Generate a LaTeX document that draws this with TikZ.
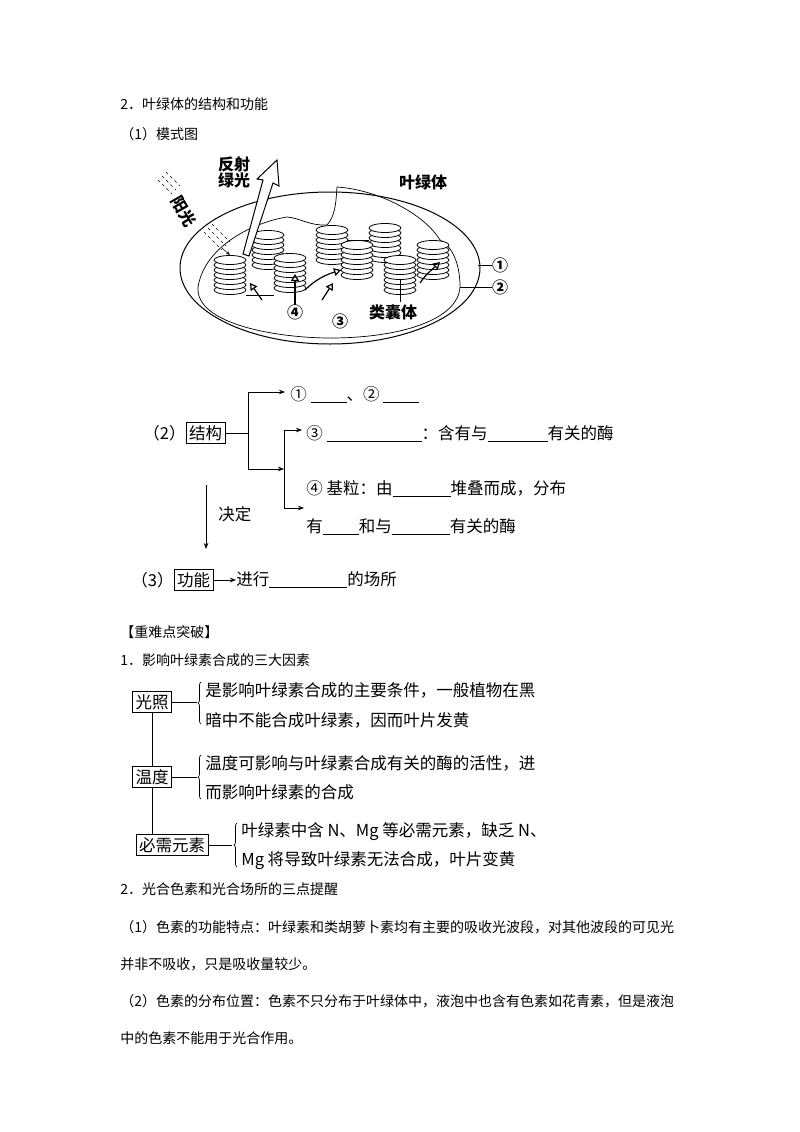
\documentclass[tikz,border=0pt]{standalone}
\usepackage{fontspec}
\setmainfont{Noto Sans CJK SC}
\usetikzlibrary{arrows.meta, positioning, decorations.pathreplacing}
\tikzset{txt/.style = {anchor = west, inner sep = 0pt, font = \fontsize{14}{14}\selectfont},
         big/.style = {anchor = west, inner sep = 0pt, font = \fontsize{16.5}{16.5}\selectfont},
         lbl/.style = {inner sep = 0pt, font = \fontsize{16}{16}\selectfont\bfseries},
         frame/.style = {draw, inner sep = 3pt, font = \fontsize{16.5}{16.5}\selectfont},
         disc/.style = {draw, fill = white, line width = .8pt},
         br/.style = {decorate, decoration = {brace, amplitude = 3pt}},
         >= {Stealth[length = 6pt]}}
\newcommand{\blank}[1]{\rule[-2pt]{#1pt}{.5pt}}
\newcommand{\granum}[2]{%
  \foreach \i in {6,...,0}
    \draw[disc] (#1, #2 + \i*5) ellipse (16 and 4.5);}
\begin{document}
\begin{tikzpicture}[x = 1pt, y = -1pt, line width = .7pt]
  \useasboundingbox[fill = white] (0,0) rectangle (800,1132);
  % headings
  \node[txt] (h1) at (120,104) {2．叶绿体的结构和功能};
  \node[txt] (h2) at (120,134) {（1）模式图};
  % chloroplast
  \draw[line width = 1pt] (330,268) ellipse (150 and 76);
  \draw (287,217) .. controls (255,222) and (205,245) .. (198,287)
        .. controls (195,325) and (280,338) .. (330,338)
        .. controls (400,338) and (458,320) .. (460,287)
        .. controls (460,260) and (450,245) .. (440,240);
  \draw (287,217) .. controls (300,218) and (310,226) .. (327,225)
        .. controls (336,215) and (336,200) .. (337,187)
        .. controls (380,190) and (425,215) .. (440,240);
  \granum{385}{228}
  \granum{332}{230}
  \granum{268}{235}
  \granum{357}{245}
  \granum{433}{245}
  \granum{290}{258}
  \granum{230}{260}
  \granum{400}{260}
  % lamellae
  \draw (348,240) -- (369,240);
  \draw (246,295) -- (274,295);
  \draw[line width = 1.2pt, -{Triangle[open, length = 7pt, width = 8pt]}] (305,290) .. controls (315,280) and (325,275) .. (341,270);
  \draw[line width = 1.2pt, -{Triangle[open, length = 7pt, width = 8pt]}] (420,283) .. controls (425,276) .. (440,262);
  \draw[line width = 1.2pt, -{Triangle[open, length = 7pt, width = 8pt]}] (262,300) -- (250,283);
  \draw[line width = 1.2pt, -{Triangle[open, length = 7pt, width = 8pt]}] (322,300) -- (333,283);
  \draw[line width = 1.2pt, -{Triangle[open, length = 7pt, width = 8pt]}] (295,305) -- (295,274);
  % reflected light
  \draw[fill = white, line width = 1pt] (243,254) -- (263,180) -- (257,179) -- (277,160) -- (279,186) -- (273,183) -- (249,256) -- cycle;
  \foreach \d in {0,4,8} {
    \draw[dashed, line width = .5pt] (158+\d,180-\d) -- (172+\d,194-\d);
    \draw[dashed, line width = .5pt] (204+\d,232-\d) -- (222+\d,250-\d);}
  \draw[-{Stealth[length = 4pt]}, line width = .5pt] (222,248) -- (230,255);
  \node[lbl, rotate = -60] (sun) at (184,211) {阳光};
  \node[lbl, align = center] (refl) at (234,172) {反射\\绿光};
  \node[lbl] (chl) at (423,182) {叶绿体};
  \node[lbl] (c1) at (500,265) {①};
  \node[lbl] (c2) at (500,287) {②};
  \draw (478,265) -- (c1.west);
  \draw (460,287) -- (c2.west);
  \node[lbl] (c4) at (295,312) {④};
  \node[lbl] (c3) at (340,321) {③};
  \node[lbl] (thy) at (393,312) {类囊体};
  \draw (400,302) -- (400,280);
  % structure
  \node[big] (p2) at (143,433) {（2）};
  \node[frame, right = 0pt of p2] (jg) {结构};
  \draw (jg.east) -- (248,433);
  \draw (248,392) -- (248,469);
  \draw[->] (248,392) -- (285,392);
  \draw[->] (248,469) -- (284,469);
  \draw (284,430) -- (284,508);
  \draw[->] (284,430) -- (302,430);
  \draw[->] (284,508) -- (304,508);
  \node[big] (s1) at (290,395) {① \blank{36}、② \blank{36}};
  \node[big] (s3) at (306,434) {③ \blank{95}：含有与\blank{60}有关的酶};
  \node[big] (s4) at (306,489) {④ 基粒：由\blank{58}堆叠而成，分布};
  \node[big] (s5) at (306,527) {有\blank{36}和与\blank{58}有关的酶};
  \draw[->] (206,485) -- (206,549);
  \node[big] (jd) at (218,514) {决定};
  \node[big] (p3) at (131,580) {（3）};
  \node[frame, right = 0pt of p3] (gn) {功能};
  \node[big] (fn) at (236,580) {进行\blank{78}的场所};
  \draw[->] (gn.east) -- (fn.west);
  % factors
  \node[txt] (h3) at (120,632) {【重难点突破】};
  \node[txt] (h4) at (120,660) {1．影响叶绿素合成的三大因素};
  \node[frame] (gz) at (152,702) {光照};
  \node[frame] (wd) at (152,777) {温度};
  \node[frame] (bx) at (172,845) {必需元素};
  \draw (gz.south) -- (wd.north);
  \draw (wd.south) -- (wd.south |- bx.north);
  \draw[line width = .4pt] (gz.east) -- (197,702);
  \draw[line width = .4pt] (wd.east) -- (197,777);
  \draw[line width = .4pt] (bx.east) -- (232,845);
  \draw[br] (201,724) -- (201,682);
  \draw[br] (201,799) -- (201,755);
  \draw[br] (237,867) -- (237,823);
  \node[big] (t1) at (205,690) {是影响叶绿素合成的主要条件，一般植物在黑};
  \node[big] (t2) at (205,720) {暗中不能合成叶绿素，因而叶片发黄};
  \node[big] (t3) at (205,763) {温度可影响与叶绿素合成有关的酶的活性，进};
  \node[big] (t4) at (205,792) {而影响叶绿素的合成};
  \node[big] (t5) at (241,832) {叶绿素中含 N、Mg 等必需元素，缺乏 N、};
  \node[big] (t6) at (241,861) {Mg 将导致叶绿素无法合成，叶片变黄};
  % notes
  \node[txt] (h5) at (120,889) {2．光合色素和光合场所的三点提醒};
  \node[txt] (n1) at (120,927) {（1）色素的功能特点：叶绿素和类胡萝卜素均有主要的吸收光波段，对其他波段的可见光};
  \node[txt] (n2) at (120,964) {并非不吸收，只是吸收量较少。};
  \node[txt] (n3) at (120,1001) {（2）色素的分布位置：色素不只分布于叶绿体中，液泡中也含有色素如花青素，但是液泡};
  \node[txt] (n4) at (120,1038) {中的色素不能用于光合作用。};
\end{tikzpicture}
\end{document}
